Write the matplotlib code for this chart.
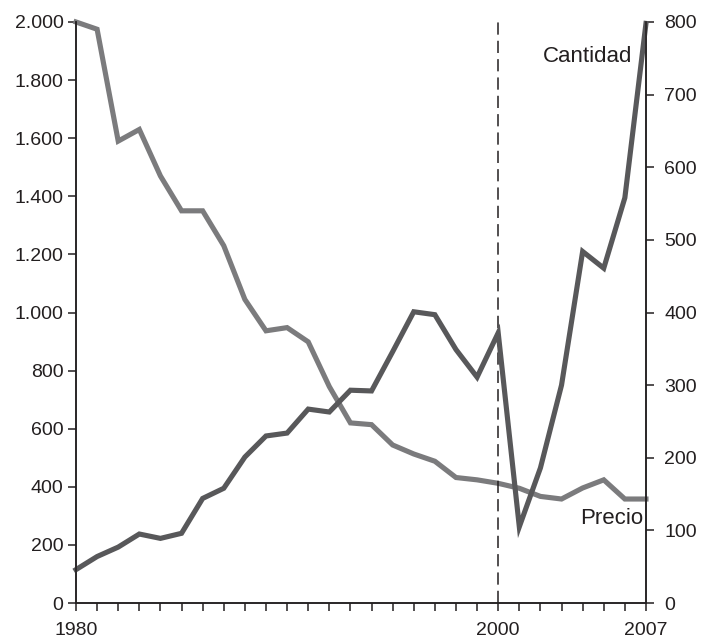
import numpy as np
import matplotlib
matplotlib.use("Agg")
import matplotlib.pyplot as plt
from matplotlib.ticker import FuncFormatter, MultipleLocator

plt.rcParams['font.family'] = ['Liberation Sans', 'DejaVu Sans']

# data
years = list(range(1980, 2008))
precio = [2000, 1975, 1590, 1630, 1470, 1350, 1350, 1230, 1045, 937,
          948, 899, 745, 620, 614, 544, 513, 488, 432, 424,
          412, 395, 367, 358, 396, 424, 358, 358]
cantidad = [46, 64, 77, 95, 89, 96, 144, 158, 201, 230,
            234, 267, 263, 293, 292, 346, 401, 397, 349, 311,
            372, 105, 186, 300, 484, 461, 558, 798]
xlabels_at = [1980, 2000, 2007]

c_precio = '#7b7b7d'
c_cant = '#58585a'
c_text = '#231f20'

fig = plt.figure(figsize=(7.01, 6.39), dpi=100)
ax = fig.add_axes([0.1084, 0.0563, 0.8131, 0.9093])
ax2 = ax.twinx()

ax.plot(years, precio, color=c_precio, lw=3.7, solid_joinstyle='miter', clip_on=False)
ax2.plot(years, cantidad, color=c_cant, lw=3.7, solid_joinstyle='miter', clip_on=False)
ax.axvline(2000, ymin=0, ymax=1.008, color=c_text, lw=1.1, ls=(0, (8, 4)), clip_on=False)

ax.set_xlim(1980, 2007)
ax.set_ylim(0, 2000)
ax2.set_ylim(0, 800)

ax.yaxis.set_major_locator(MultipleLocator(200))
ax.yaxis.set_major_formatter(FuncFormatter(lambda v, p: f"{int(v):,}".replace(',', '.')))
ax2.yaxis.set_major_locator(MultipleLocator(100))

ax.set_xticks(years)
ax.set_xticklabels([str(y) if y in xlabels_at else '' for y in years])

for a in (ax, ax2):
    a.spines['top'].set_visible(False)
    for s in a.spines.values():
        s.set_color(c_text)
        s.set_linewidth(1.1)
    a.tick_params(colors=c_text, labelcolor=c_text, labelsize=14, width=1.1, length=6)
ax.tick_params(axis='y', pad=3)
ax.tick_params(axis='x', pad=8)
ax2.tick_params(axis='y', pad=7)

ax2.text(2006.35, 752, 'Cantidad', ha='right', va='center', fontsize=16, color=c_text)
ax.text(2006.85, 292, 'Precio', ha='right', va='center', fontsize=16, color=c_text)

fig.savefig('out.png', dpi=100)
